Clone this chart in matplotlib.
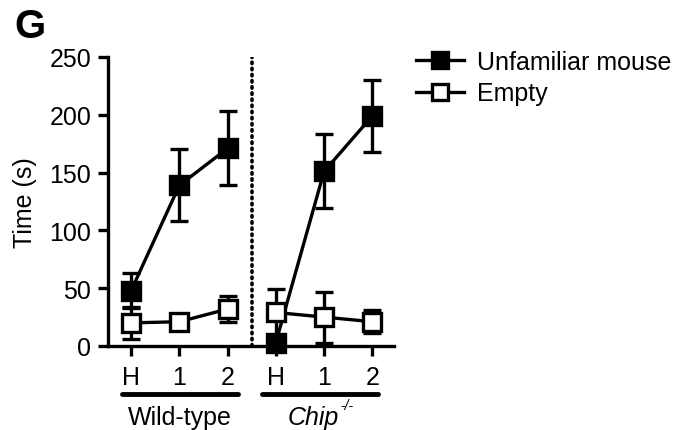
import matplotlib
matplotlib.use("Agg")
import matplotlib.pyplot as plt
from matplotlib.lines import Line2D

plt.rcParams['font.family'] = ['Liberation Sans', 'DejaVu Sans']

tick_labels = ["H", "1", "2", "H", "1", "2"]
groups = ["Wild-type", "Chip"]
wt_unfam = [48, 139, 171]
wt_unfam_err = [15, 31, 32]
wt_empty = [20, 21, 32]
wt_empty_err = [14, 3, 11]
ko_unfam = [3, 151, 199]
ko_unfam_err = [0, 32, 31]
ko_empty = [29, 25, 21]
ko_empty_err = [20, 22, 10]

FS = 18
fig = plt.figure(figsize=(6.85, 4.31), dpi=100)
W, H = 685, 431
ax = fig.add_axes([108 / W, 1 - 347 / H, (394 - 108) / W, (347 - 58) / H])

xw = [0, 1, 2]
xk = [3, 4, 5]
lw = 2.4
common = dict(color="black", lw=lw, capsize=6.5, capthick=lw, elinewidth=lw,
              markersize=13, markeredgewidth=lw, clip_on=False, zorder=3)

ax.errorbar(xw, wt_unfam, yerr=wt_unfam_err, marker="s", markerfacecolor="black", **common)
ax.errorbar(xw, wt_empty, yerr=wt_empty_err, marker="s", markerfacecolor="white", **common)
ax.errorbar(xk, ko_unfam, yerr=ko_unfam_err, marker="s", markerfacecolor="black", **common)
ax.errorbar(xk, ko_empty, yerr=ko_empty_err, marker="s", markerfacecolor="white", **common)

ax.axvline(2.5, ymin=0, ymax=1, color="black", lw=2.6, ls=(0, (0.4, 1.3)), dash_capstyle="round")

ax.set_xlim(-0.48, 5.45)
ax.set_ylim(0, 250)
ax.set_yticks([0, 50, 100, 150, 200, 250])
ax.set_xticks(xw + xk)
ax.set_xticklabels(tick_labels)
for s in ["top", "right"]:
    ax.spines[s].set_visible(False)
for s in ["left", "bottom"]:
    ax.spines[s].set_linewidth(lw)
ax.tick_params(axis="both", direction="out", length=7, width=lw, labelsize=FS, pad=5)
ax.tick_params(axis="x", pad=7)
ax.set_ylabel("Time (s)", fontsize=FS)
ax.yaxis.set_label_coords((37 - 108) / 286, 0.5)

# legend
h1 = Line2D([], [], color="black", lw=lw, marker="s", markersize=12, markerfacecolor="black", markeredgewidth=lw)
h2 = Line2D([], [], color="black", lw=lw, marker="s", markersize=12, markerfacecolor="white", markeredgewidth=lw)
fig.legend([h1, h2], ["Unfamiliar mouse", "Empty"], loc="upper left",
           bbox_to_anchor=(416 / W, 1 - 51 / H), frameon=False, fontsize=FS,
           handlelength=1.9, handletextpad=0.55, labelspacing=0.3, borderaxespad=0,
           borderpad=0)

# group underlines and labels
yl = 1 - 395 / H
fig.add_artist(Line2D([122 / W, 238 / W], [yl, yl], color="black", lw=3.5, solid_capstyle="round"))
fig.add_artist(Line2D([262 / W, 378 / W], [yl, yl], color="black", lw=3.5, solid_capstyle="round"))
fig.text(180 / W, 1 - 418 / H, groups[0], ha="center", va="center", fontsize=FS)
fig.text(288 / W, 1 - 418 / H, groups[1], ha="left", va="center", fontsize=FS, style="italic")
fig.text(340 / W, 1 - 406 / H, "-/-", ha="left", va="center", fontsize=10, style="italic")

fig.text(14 / W, 1 - 27 / H, "G", fontsize=29, fontweight="bold", ha="left", va="center")

fig.savefig("out.png", dpi=100)
